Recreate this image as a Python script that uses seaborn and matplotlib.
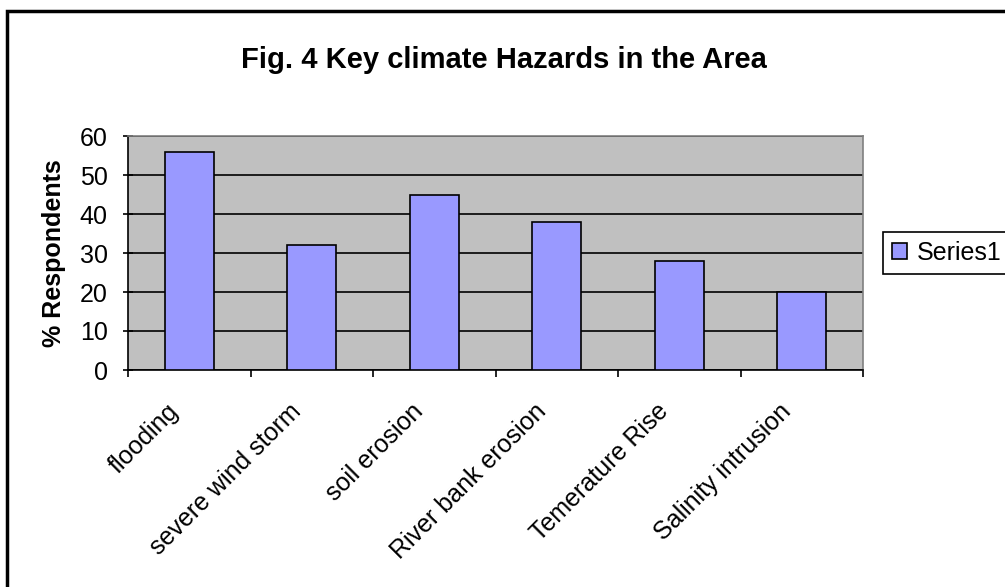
import matplotlib
matplotlib.use("Agg")
import matplotlib.pyplot as plt
from matplotlib.patches import Rectangle
import seaborn as sns
import pandas as pd

# Survey results: share of respondents naming each hazard
categories = ["flooding", "severe wind storm", "soil erosion",
              "River bank erosion", "Temerature Rise", "Salinity intrusion"]
values = [56, 32, 45, 38, 28, 20]
series_name = "Series1"
y_ticks = [0, 10, 20, 30, 40, 50, 60]

df = pd.DataFrame({"hazard": categories, "pct": values})

sns.set_theme(style="white")
plt.rcParams["font.family"] = ["Liberation Sans", "DejaVu Sans"]
plt.rcParams["text.color"] = "black"
plt.rcParams["axes.labelcolor"] = "black"
plt.rcParams["xtick.color"] = "black"
plt.rcParams["ytick.color"] = "black"

W, H = 1005, 587
fig = plt.figure(figsize=(W / 100, H / 100), dpi=100)
fig.patch.set_facecolor("white")

# plot area placed in pixel terms
left, right, top, bottom = 128, 863, 136, 370
ax = fig.add_axes([left / W, 1 - bottom / H, (right - left) / W, (bottom - top) / H])
ax.set_facecolor("#C0C0C0")

sns.barplot(data=df, x="hazard", y="pct", ax=ax, color="#9999FF",
            saturation=1, width=0.4, edgecolor="black", linewidth=1.2, zorder=3)

ax.set_ylim(0, 60)
ax.set_xlim(-0.5, len(categories) - 0.5)
ax.set_yticks(y_ticks)
ax.set_yticklabels([str(v) for v in y_ticks], fontsize=18, color="black")
ax.yaxis.grid(True, color="black", linewidth=1.2, zorder=1)
ax.set_axisbelow(True)

# tick marks on category boundaries; rotated labels hang just left of each centre
bounds = [i - 0.5 for i in range(len(categories) + 1)]
label_pos = [i - 0.05 for i in range(len(categories))]
ax.set_xticks(bounds)
ax.set_xticklabels([""] * len(bounds))
ax.set_xticks(label_pos, minor=True)
ax.set_xticklabels(categories, minor=True, rotation=45, ha="right",
                   va="bottom", rotation_mode="anchor", fontsize=18,
                   color="black")
ax.tick_params(axis="x", which="major", direction="out", length=5, width=1.2,
               color="black", bottom=True)
ax.tick_params(axis="x", which="minor", length=0, pad=33, bottom=True)
ax.tick_params(axis="y", which="major", direction="inout", length=7, width=1.2,
               color="black", pad=11, left=True)

ax.set_xlabel("")
ax.set_ylabel("% Respondents", fontsize=18, fontweight="bold", labelpad=10,
              color="black")

for side in ("left", "bottom"):
    ax.spines[side].set_color("black")
    ax.spines[side].set_linewidth(1.2)
for side in ("top", "right"):
    ax.spines[side].set_color("#808080")
    ax.spines[side].set_linewidth(1.2)

fig.text(504 / W, 1 - 60 / H, "Fig. 4 Key climate Hazards in the Area",
         ha="center", va="center", fontsize=21, fontweight="bold", color="black")

leg = ax.legend([ax.containers[0]], [series_name], loc="upper left",
                bbox_to_anchor=(883 / W, 1 - 232 / H), bbox_transform=fig.transFigure,
                fontsize=18, frameon=True, fancybox=False, framealpha=1,
                edgecolor="black", handlelength=0.6, handleheight=0.6,
                handletextpad=0.4, borderpad=0.35, borderaxespad=0)
leg.get_frame().set_linewidth(1.2)
for t in leg.get_texts():
    t.set_color("black")

# chart-area frame
fig.patches.append(Rectangle((7 / W, -0.1), 1.2, 1 - 11 / H + 0.1,
                             transform=fig.transFigure, fill=False,
                             edgecolor="black", linewidth=2.5, figure=fig))

fig.savefig("out.png", dpi=100)
